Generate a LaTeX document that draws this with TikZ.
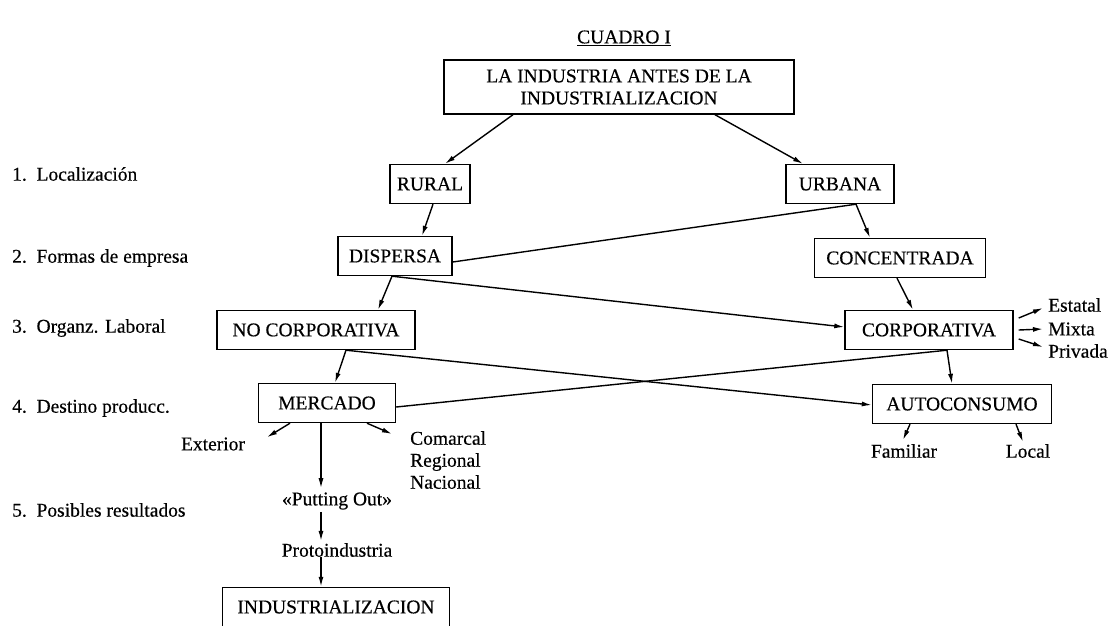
\documentclass[tikz,border=0pt]{standalone}
\usepackage{fontspec}
\setmainfont{Liberation Serif}[FakeBold=0.4]
\usetikzlibrary{arrows.meta}
\tikzset{
  caja/.style={draw, line width=1.4pt, inner xsep=4pt, minimum height=39pt,
    font=\fontsize{19.5}{22}\selectfont},
  rotulo/.style={inner sep=0pt, font=\fontsize{19.5}{22}\selectfont},
  flecha/.style={line width=1.4pt, -{Latex[length=10pt,width=5pt]}},
  linea/.style={line width=1.4pt}
}
\begin{document}
\begin{tikzpicture}[x=1pt,y=-1pt]
\useasboundingbox (0,0) rectangle (1109,625);

\node[rotulo] (titulo) at (624,38) {\underline{CUADRO I}};
\node[caja, minimum width=350pt, minimum height=54pt, align=center] (industria) at (619,87)
	{LA INDUSTRIA ANTES DE LA\\INDUSTRIALIZACION};

\node[rotulo, anchor=west] (nivel1) at (12,174) {1.\enspace Localización};
\node[rotulo, anchor=west] (nivel2) at (12,258) {2.\enspace Formas de empresa};
\node[rotulo, anchor=west] (nivel3) at (12,328) {3.\enspace Organz. Laboral};
\node[rotulo, anchor=west] (nivel4) at (12,408) {4.\enspace Destino producc.};
\node[rotulo, anchor=west] (nivel5) at (12,510) {5.\enspace Posibles resultados};

\node[caja, minimum width=80pt] (rural) at (430,184) {RURAL};
\node[caja, minimum width=108pt] (urbana) at (840,184) {URBANA};
\node[caja, minimum width=114pt] (dispersa) at (395,256) {DISPERSA};
\node[caja, minimum width=171pt] (concentrada) at (900,258) {CONCENTRADA};
\node[caja, minimum width=198pt] (nocorp) at (316,330) {NO CORPORATIVA};
\node[caja, minimum width=168pt] (corp) at (929,330) {CORPORATIVA};
\node[caja, minimum width=137pt] (mercado) at (327,403) {MERCADO};
\node[caja, minimum width=179pt] (autoconsumo) at (962,404) {AUTOCONSUMO};
\node[caja, minimum width=227pt] (industrializacion) at (336,607) {INDUSTRIALIZACION};

\node[rotulo, anchor=west] (estatal) at (1048,305) {Estatal};
\node[rotulo, anchor=west] (mixta) at (1048,329) {Mixta};
\node[rotulo, anchor=west] (privada) at (1048,351) {Privada};
\node[rotulo] (exterior) at (213,444) {Exterior};
\node[rotulo, anchor=north west, align=left] (comarcal) at (410,431)
	{Comarcal\\Regional\\Nacional};
\node[rotulo] (putting) at (337,501) {«Putting Out»};
\node[rotulo] (proto) at (337,550) {Protoindustria};
\node[rotulo] (familiar) at (904,451) {Familiar};
\node[rotulo] (local) at (1028,451) {Local};

\draw[flecha] ([xshift=-106pt]industria.south) -- ([xshift=15pt]rural.north);
\draw[flecha] ([xshift=96pt]industria.south) -- ([xshift=-37pt]urbana.north);
\draw[flecha] ([xshift=3pt]rural.south) -- ([xshift=27pt]dispersa.north);

\coordinate (nudo1) at ([xshift=16pt]urbana.south);
\draw[linea] ([yshift=-6pt]dispersa.east) -- (nudo1);
\draw[flecha] (nudo1) -- ([xshift=-30pt]concentrada.north);

\coordinate (nudo2) at ([xshift=-3pt]dispersa.south);
\draw[flecha] (nudo2) -- ([xshift=62pt]nocorp.north);
\draw[flecha] (nudo2) -- ([yshift=3pt]corp.west);
\draw[flecha] ([xshift=-3pt]concentrada.south) -- ([xshift=-16pt]corp.north);

\coordinate (nudo3) at ([xshift=30pt]nocorp.south);
\draw[flecha] (nudo3) -- ([xshift=8pt]mercado.north);
\draw[flecha] (nudo3) -- ([yshift=-1pt]autoconsumo.west);

\coordinate (nudo4) at ([xshift=18pt]corp.south);
\draw[linea] ([yshift=-4pt]mercado.east) -- (nudo4);
\draw[flecha] (nudo4) -- ([xshift=-10pt]autoconsumo.north);

\draw[flecha] ([xshift=5pt,yshift=12pt]corp.east) -- ([xshift=-5pt,yshift=-3pt]estatal.west);
\draw[flecha] ([xshift=5pt]corp.east) -- ([xshift=-5pt]mixta.west);
\draw[flecha] ([xshift=5pt,yshift=-9pt]corp.east) -- ([xshift=-5pt,yshift=4pt]privada.west);

\draw[flecha] ([xshift=-37pt]mercado.south) -- ([xshift=54pt]exterior.north);
\draw[flecha] ([xshift=40pt]mercado.south) -- ([xshift=-18pt,yshift=-3pt]comarcal.north west);
\draw[flecha] ([xshift=-6pt]mercado.south) -- ([xshift=-16pt,yshift=4pt]putting.north);
\draw[flecha] ([xshift=-16pt,yshift=-2pt]putting.south) -- ([xshift=-16pt,yshift=2pt]proto.north);
\draw[flecha] ([xshift=-16pt]proto.south) -- ([xshift=-15pt]industrializacion.north);

\draw[flecha] ([xshift=-52pt]autoconsumo.south) -- ([xshift=-1pt,yshift=4pt]familiar.north);
\draw[flecha] ([xshift=54pt]autoconsumo.south) -- ([xshift=-5pt,yshift=2pt]local.north);
\end{tikzpicture}
\end{document}
